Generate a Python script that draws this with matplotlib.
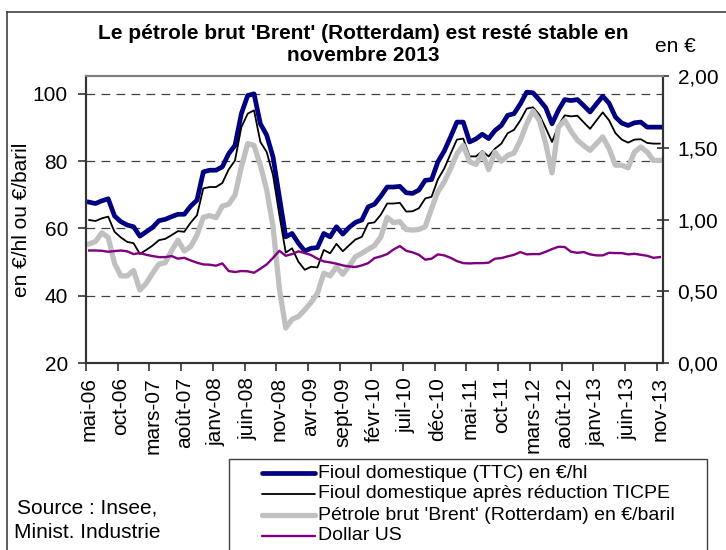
import matplotlib
matplotlib.use("Agg")
import matplotlib.pyplot as plt
from matplotlib.lines import Line2D
from matplotlib.patches import Rectangle
import numpy as np

plt.rcParams['font.family'] = ['Liberation Sans', 'DejaVu Sans']

# ---------------- data (monthly, mai-06 .. nov-13) ----------------
tick_labels = ["mai-06", "oct-06", "mars-07", "août-07", "janv-08", "juin-08", "nov-08",
               "avr-09", "sept-09", "févr-10", "juil-10", "déc-10", "mai-11", "oct-11",
               "mars-12", "août-12", "janv-13", "juin-13", "nov-13"]

fioul_ttc = [67.8, 67.4, 68.2, 68.8, 63.7, 62.0, 61.0, 60.5, 57.7, 59.0,
             60.3, 62.3, 62.7, 63.5, 64.2, 64.2, 66.6, 68.4, 76.8, 77.3,
             77.3, 78.3, 82.2, 84.7, 94.1, 99.5, 100.0, 91.1, 87.7, 81.2,
             69.3, 57.5, 58.5, 55.6, 53.3, 54.1, 54.3, 58.5, 57.5, 60.5,
             58.3, 60.3, 61.8, 62.5, 66.4, 67.2, 69.6, 72.3, 72.3, 72.5,
             70.6, 70.4, 71.4, 74.3, 74.5, 79.8, 83.0, 87.2, 91.6, 91.6,
             85.7, 86.6, 88.0, 86.7, 89.1, 90.6, 93.6, 94.1, 97.0, 100.5,
             100.3, 98.2, 95.9, 91.1, 95.1, 98.3, 98.0, 98.3, 96.5, 94.6,
             97.0, 99.3, 97.2, 93.1, 91.3, 90.6, 91.4, 91.6, 90.1, 90.1,
             90.1]

fioul_net = [62.5, 62.2, 63.0, 63.5, 59.0, 57.3, 56.0, 55.6, 52.4, 53.6,
             54.9, 56.5, 56.9, 58.0, 59.2, 59.0, 61.7, 63.9, 71.9, 72.3,
             72.3, 73.5, 77.5, 80.2, 90.1, 94.1, 95.1, 85.7, 82.7, 75.8,
             64.0, 52.8, 54.1, 50.1, 47.7, 48.6, 48.4, 53.6, 52.6, 55.4,
             53.2, 55.0, 56.7, 57.5, 61.5, 61.8, 64.1, 67.4, 67.4, 67.6,
             65.0, 65.1, 66.0, 68.9, 69.4, 74.6, 77.8, 82.2, 86.4, 86.7,
             81.4, 81.4, 83.0, 81.4, 83.7, 85.2, 88.3, 89.3, 92.1, 95.6,
             96.0, 93.8, 89.9, 85.7, 90.6, 93.6, 93.3, 93.5, 91.5, 89.6,
             92.1, 94.5, 92.1, 88.3, 86.4, 85.5, 86.4, 86.5, 85.4, 85.2,
             85.2]

brent = [55.4, 56.1, 58.7, 57.3, 49.6, 45.9, 45.9, 47.5, 41.7, 43.7,
         46.7, 49.4, 49.8, 53.4, 56.5, 53.3, 54.6, 58.0, 63.3, 63.8,
         63.2, 66.6, 67.2, 69.9, 78.3, 85.2, 84.7, 78.8, 71.4, 60.5,
         42.0, 30.4, 33.0, 33.8, 35.8, 38.0, 40.7, 46.7, 45.9, 48.6,
         46.4, 48.8, 51.6, 52.6, 53.8, 54.9, 57.5, 63.3, 61.7, 62.0,
         59.7, 59.5, 59.7, 60.5, 65.9, 70.9, 73.8, 77.8, 82.2, 84.7,
         79.8, 79.0, 82.4, 77.5, 82.7, 80.0, 81.7, 82.4, 86.2, 91.1,
         94.9, 92.1, 85.2, 76.5, 90.1, 92.1, 88.9, 86.2, 84.6, 83.2,
         85.2, 87.2, 83.7, 78.8, 78.8, 78.0, 82.7, 84.2, 82.7, 80.2,
         80.2]

dollar = [0.784, 0.784, 0.782, 0.775, 0.780, 0.784, 0.778, 0.759, 0.766, 0.754,
          0.745, 0.738, 0.738, 0.745, 0.727, 0.733, 0.715, 0.699, 0.687, 0.685,
          0.678, 0.694, 0.641, 0.634, 0.641, 0.639, 0.629, 0.657, 0.687, 0.733,
          0.782, 0.747, 0.759, 0.778, 0.766, 0.752, 0.727, 0.708, 0.701, 0.692,
          0.680, 0.673, 0.669, 0.680, 0.696, 0.731, 0.743, 0.759, 0.791, 0.815,
          0.782, 0.771, 0.754, 0.720, 0.727, 0.757, 0.750, 0.733, 0.710, 0.696,
          0.694, 0.696, 0.696, 0.699, 0.727, 0.731, 0.743, 0.754, 0.773, 0.757,
          0.759, 0.759, 0.775, 0.794, 0.810, 0.808, 0.775, 0.768, 0.773, 0.757,
          0.750, 0.750, 0.768, 0.766, 0.766, 0.757, 0.761, 0.754, 0.747, 0.733,
          0.738]

series_names = ["Fioul domestique (TTC) en €/hl",
                "Fioul domestique après réduction TICPE",
                "Pétrole brut 'Brent' (Rotterdam) en €/baril",
                "Dollar US"]

C_BLUE, C_BLACK, C_GRAY, C_PURPLE = "#000080", "#000000", "#C0C0C0", "#800080"

# ---------------- figure ----------------
W, H = 726, 550
fig = plt.figure(figsize=(W / 100, H / 100), dpi=100)

def fx(px):
    return px / W

def fy(py):
    return 1 - py / H

ax = fig.add_axes([fx(86), fy(363), fx(663) - fx(86), fy(76) - fy(363)])
ax2 = ax.twinx()

x = np.arange(len(fioul_ttc))
ax.plot(x, fioul_ttc, color=C_BLUE, lw=3.4, solid_joinstyle='round', zorder=3)
ax.plot(x, fioul_net, color=C_BLACK, lw=1.3, solid_joinstyle='round', zorder=4)
ax.plot(x, brent, color=C_GRAY, lw=3.8, solid_joinstyle='round', zorder=5)
ax2.plot(x, dollar, color=C_PURPLE, lw=1.7, solid_joinstyle='round', zorder=3)

ax.set_xlim(-0.5, len(x) - 0.5)
ax.set_ylim(20, 105.3)
ax2.set_ylim(0, 2.0)

ax.set_yticks([20, 40, 60, 80, 100])
ax.set_yticklabels(["20", "40", "60", "80", "100"])
ax2.set_yticks([0, 0.5, 1.0, 1.5, 2.0])
ax2.set_yticklabels([f"{v:.2f}".replace(".", ",") for v in [0, 0.5, 1.0, 1.5, 2.0]])

label_pos = np.arange(0, len(x), 5)
ax.set_xticks(label_pos - 0.5)
ax.set_xticklabels([])
ax.set_xticks(label_pos, minor=True)
ax.set_xticklabels(tick_labels, minor=True, rotation=90, fontsize=15)
ax.tick_params(axis='x', which='major', direction='out', length=6, width=1.2, color='#333333')
ax.tick_params(axis='x', which='minor', length=0, pad=10)
ax.tick_params(axis='y', direction='out', length=6, width=1.2, labelsize=15, pad=7, color='#333333')
ax2.tick_params(axis='y', direction='inout', length=9, width=1.2, labelsize=15, pad=6, color='#333333')

for v in [40, 60, 80, 100]:
    ax.axhline(v, color='#404040', lw=0.9, dashes=(7, 5), zorder=1)

for a in (ax, ax2):
    a.spines['top'].set_color('#808080')
    a.spines['top'].set_linewidth(1.5)
    for s in ('left', 'right', 'bottom'):
        a.spines[s].set_color('#333333')
        a.spines[s].set_linewidth(1.5)
ax.patch.set_visible(False)
ax2.set_zorder(ax.get_zorder() + 1)
ax.set_zorder(2)
ax2.set_zorder(3)
ax2.patch.set_visible(False)

# titles and labels
fig.text(fx(363), fy(44.5), "Le pétrole brut 'Brent' (Rotterdam) est resté stable en\nnovembre 2013",
         ha='center', va='center', fontsize=15, fontweight='bold', linespacing=1.2)
fig.text(fx(675), fy(47), "en €", ha='center', va='center', fontsize=15)
fig.text(fx(22), fy(220), "en €/hl ou €/baril", ha='center', va='center', rotation=90, fontsize=15)

fig.text(fx(87), fy(508), "Source : Insee,", ha='center', va='center', fontsize=15)
fig.text(fx(87), fy(533), "Minist. Industrie", ha='center', va='center', fontsize=15)

# outer frame (left and top visible)
fig.add_artist(Line2D([fx(7), fx(7)], [fy(12), fy(560)], color='#404040', lw=1.2))
fig.add_artist(Line2D([fx(7), fx(740)], [fy(12), fy(12)], color='#404040', lw=1.2))

# legend
fig.add_artist(Rectangle((fx(229), fy(570)), fx(707) - fx(229), fy(459) - fy(570),
                         transform=fig.transFigure, fill=False, edgecolor='#404040', lw=1.0))
styles = [(C_BLUE, 3.4), (C_BLACK, 1.3), (C_GRAY, 3.8), (C_PURPLE, 1.7)]
for k, (name, (c, lw)) in enumerate(zip(series_names, styles)):
    yy = 473 + 21 * k
    fig.add_artist(Line2D([fx(262), fx(315)], [fy(yy), fy(yy)], color=c, lw=lw,
                          solid_capstyle='round'))
    fig.text(fx(318), fy(yy), name, ha='left', va='center', fontsize=14)

fig.savefig("out.png", dpi=100)
